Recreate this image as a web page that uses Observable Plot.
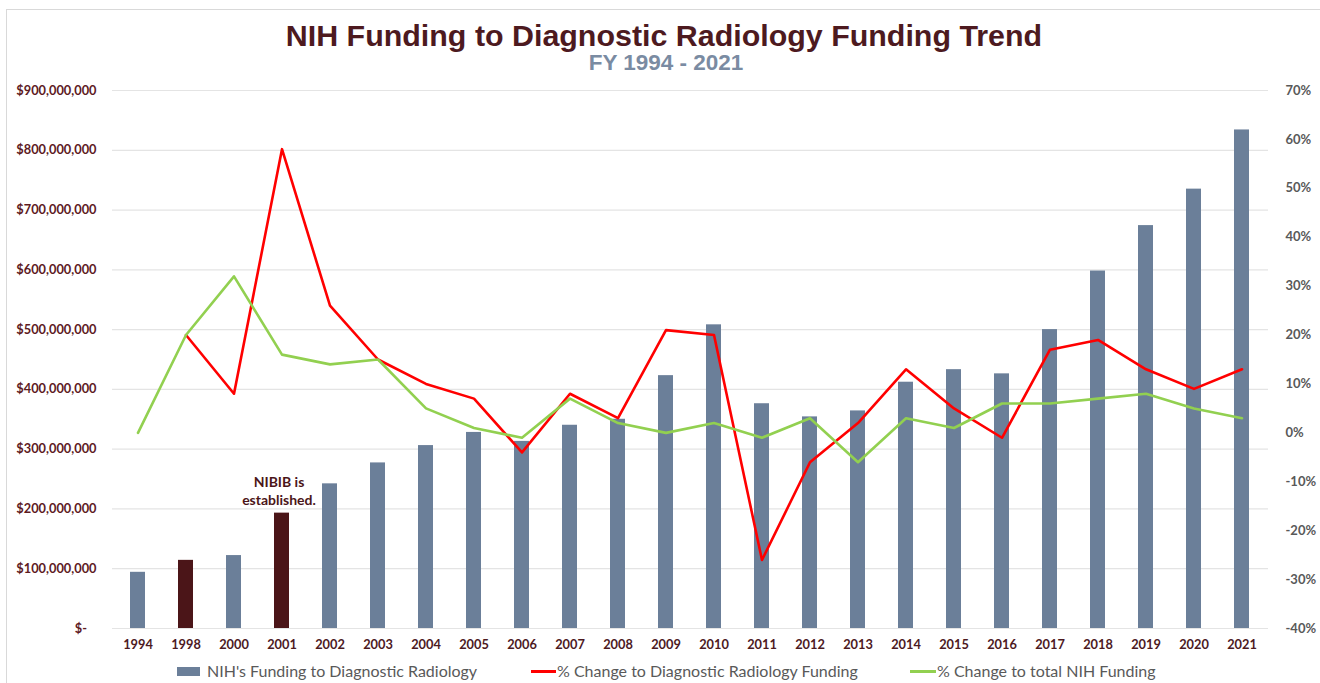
<!DOCTYPE html>
<html>
<head>
<meta charset="utf-8">
<script src="https://cdn.jsdelivr.net/npm/d3@7"></script>
<script src="https://cdn.jsdelivr.net/npm/@observablehq/plot@0.6"></script>
<style>
  html, body { margin: 0; padding: 0; background: #ffffff; }
  #wrap { position: relative; width: 1320px; height: 683px; overflow: hidden; font-family: Lato, "Open Sans", sans-serif; }
  #frame { position: absolute; left: 6px; top: 9px; width: 1330px; height: 690px; border: 1px solid #d9d9d9; box-sizing: border-box; }
  #title { position: absolute; left: 4px; width: 1320px; top: 20px; text-align: center; font-family: "Liberation Sans", Arial, sans-serif; font-weight: bold; font-size: 30.4px; line-height: 30px; color: #4d1a1f; }
  #subtitle { position: absolute; left: 6px; width: 1320px; top: 51px; text-align: center; font-family: "Liberation Sans", Arial, sans-serif; font-weight: bold; font-size: 22.5px; line-height: 23px; color: #7a8ba2; }
  #chart { position: absolute; left: 0; top: 76px; }
  .leg { position: absolute; font-size: 16px; color: #595959; line-height: 20px; top: 661px; white-space: nowrap; }
  .sw { position: absolute; }
</style>
</head>
<body>
<div id="wrap">
  <div id="frame"></div>
  <div id="title">NIH Funding to Diagnostic Radiology Funding Trend</div>
  <div id="subtitle">FY 1994 - 2021</div>
  <div id="chart"></div>
  <div class="sw" style="left:177px;top:667px;width:23px;height:9px;background:#6b7f99"></div>
  <div class="leg" style="left:207px">NIH's Funding to Diagnostic Radiology</div>
  <div class="sw" style="left:531px;top:670px;width:25px;height:3px;background:#ff0000"></div>
  <div class="leg" style="left:557px">% Change to Diagnostic Radiology Funding</div>
  <div class="sw" style="left:910px;top:670px;width:26px;height:3px;background:#92d050"></div>
  <div class="leg" style="left:937px">% Change to total NIH Funding</div>
</div>
<script>
// ---- data ----
const years = ["1994","1998","2000","2001","2002","2003","2004","2005","2006","2007","2008","2009","2010","2011","2012","2013","2014","2015","2016","2017","2018","2019","2020","2021"];
const funding = [94e6,114e6,122e6,193e6,242e6,277e6,306e6,328e6,313e6,340e6,350e6,423e6,508e6,376e6,354e6,364e6,412e6,433e6,426e6,500e6,598e6,674e6,735e6,834e6];
const drChange = [null,20,8,58,26,15,10,7,-4,8,3,21,20,-26,-6,2,13,5,-1,17,19,13,9,13];
const nihChange = [0,20,32,16,14,15,5,1,-1,7,2,0,2,-1,3,-6,3,1,6,6,7,8,5,3];
const highlighted = ["1998","2001"];
const leftTicks = [0,100e6,200e6,300e6,400e6,500e6,600e6,700e6,800e6,900e6];
const rightTicks = [-40,-30,-20,-10,0,10,20,30,40,50,60,70];
const annotationYear = "2001";
const annotationText = "NIBIB is\nestablished.";

// ---- styles ----
const slate = "#6b7f99", maroon = "#4b1518", red = "#ff0000", green = "#92d050";
const leftColor = "#5e1b1f", rightColor = "#595959", xColor = "#4d1a1f";

const moneyMax = leftTicks[leftTicks.length - 1];
const pctMin = rightTicks[0], pctMax = rightTicks[rightTicks.length - 1];
const toY = p => (p == null) ? NaN : (p - pctMin) / (pctMax - pctMin) * moneyMax;
const toPct = m => Math.round(m / moneyMax * (pctMax - pctMin) + pctMin);

const rows = years.map((year, i) => ({
  year, funding: funding[i], dr: drChange[i], nih: nihChange[i],
  fill: highlighted.includes(year) ? maroon : slate
}));
const fmt = d3.format(",");

const chart = Plot.plot({
  width: 1320, height: 582,
  marginTop: 14, marginBottom: 30, marginLeft: 112, marginRight: 52,
  style: { fontFamily: "Lato, 'Open Sans', sans-serif", background: "transparent" },
  x: { type: "band", domain: years, paddingInner: 0.68, paddingOuter: 0.34 },
  y: { domain: [0, moneyMax] },
  color: { type: "identity" },
  marks: [
    Plot.ruleY(leftTicks, { stroke: "#e4e4e4", strokeWidth: 1.2 }),
    Plot.barY(rows, { x: "year", y: "funding", fill: "fill" }),
    Plot.line(rows, { x: "year", y: d => toY(d.dr), stroke: red, strokeWidth: 2.6 }),
    Plot.line(rows, { x: "year", y: d => toY(d.nih), stroke: green, strokeWidth: 2.6 }),
    Plot.text([{ year: annotationYear, v: funding[years.indexOf(annotationYear)], t: annotationText }], {
      x: "year", y: "v", text: "t", lineAnchor: "bottom", dy: -8, dx: -3, lineHeight: 1.3,
      fontSize: 14, fontWeight: "bold", fill: maroon
    }),
    Plot.axisY(leftTicks, {
      anchor: "left", label: null, tickSize: 0, tickPadding: 16,
      tickFormat: d => d === 0 ? "$-\u2002\u00a0" : "$" + fmt(d),
      fontSize: 12.8, fontWeight: "bold", fill: leftColor
    }),
    Plot.axisY(rightTicks.map(toY), {
      anchor: "right", label: null, tickSize: 0, tickPadding: 17,
      tickFormat: d => toPct(d) + "%",
      fontSize: 13, fontWeight: "bold", fill: rightColor
    }),
    Plot.axisX({ label: null, tickSize: 0, tickPadding: 11, fontSize: 12.8, fontWeight: "bold", fill: xColor })
  ]
});
document.getElementById("chart").appendChild(chart);
</script>
</body>
</html>
